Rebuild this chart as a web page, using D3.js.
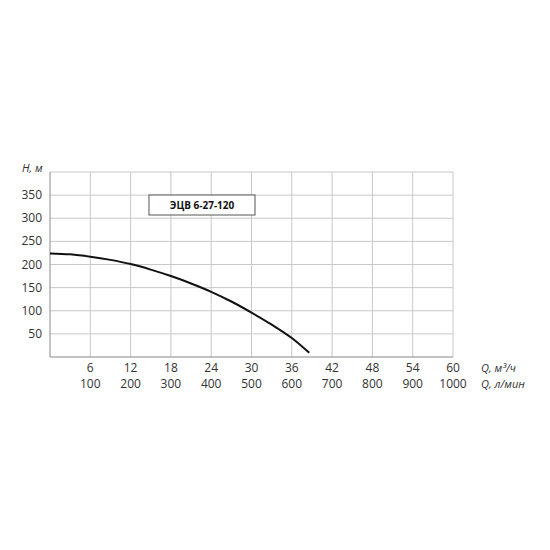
<!DOCTYPE html>
<html><head><meta charset="utf-8">
<script src="https://cdn.jsdelivr.net/npm/d3@7"></script>
<style>body{margin:0;background:#fff}text{font-family:"Open Sans",sans-serif}</style>
</head><body><svg id="c" width="550" height="550"></svg>
<script>
// pump curve values
var flowQ = [0, 3, 6, 9, 12, 15, 18, 21, 24, 27, 30, 33, 36, 38.6];
var headH = [224, 222, 217, 210, 201, 189, 175, 159, 141, 120, 96, 70, 41, 9];
var qTicks = [6, 12, 18, 24, 30, 36, 42, 48, 54, 60];
var lminTicks = [100, 200, 300, 400, 500, 600, 700, 800, 900, 1000];
var hTicks = [50, 100, 150, 200, 250, 300, 350];

var svg = d3.select("#c");
var x = d3.scaleLinear().domain([0, 60]).range([50, 453]);
var y = d3.scaleLinear().domain([0, 400]).range([357, 172]);

// grid
svg.selectAll(".vg").data(qTicks).enter().append("line")
  .attr("x1", d => x(d)).attr("x2", d => x(d)).attr("y1", y(400)).attr("y2", y(0))
  .attr("stroke", "#c8c8c8").attr("stroke-width", 1);
svg.selectAll(".hg").data(hTicks.concat([400])).enter().append("line")
  .attr("x1", x(0)).attr("x2", x(60)).attr("y1", d => y(d)).attr("y2", d => y(d))
  .attr("stroke", "#c8c8c8").attr("stroke-width", 1);
svg.append("line").attr("x1", x(0)).attr("x2", x(0)).attr("y1", y(400)).attr("y2", y(0)).attr("stroke", "#888");
svg.append("line").attr("x1", x(0)).attr("x2", x(60)).attr("y1", y(0)).attr("y2", y(0)).attr("stroke", "#888");

// y labels
svg.selectAll(".yl").data(hTicks).enter().append("text")
  .attr("x", 42).attr("y", d => y(d) + 4).attr("text-anchor", "end")
  .attr("font-size", 12).attr("fill", "#333").text(d => d);
svg.append("text").attr("x", 22).attr("y", 172).attr("font-size", 11).attr("font-style", "italic").attr("fill", "#333").text("H, м");

// x labels
svg.selectAll(".xl").data(qTicks).enter().append("text")
  .attr("x", d => x(d)).attr("y", 372).attr("text-anchor", "middle")
  .attr("font-size", 12).attr("fill", "#333").text(d => d);
svg.selectAll(".xl2").data(lminTicks).enter().append("text")
  .attr("x", (d, i) => x(qTicks[i])).attr("y", 388).attr("text-anchor", "middle")
  .attr("font-size", 12).attr("fill", "#333").text(d => d);
svg.append("text").attr("x", 481).attr("y", 372).attr("font-size", 11).attr("font-style", "italic").attr("fill", "#333").text("Q, м³/ч");
svg.append("text").attr("x", 481).attr("y", 388).attr("font-size", 11).attr("font-style", "italic").attr("fill", "#333").text("Q, л/мин");

// curve
var line = d3.line().x((d, i) => x(flowQ[i])).y(d => y(d)).curve(d3.curveMonotoneX);
svg.append("path").datum(headH).attr("d", line).attr("fill", "none").attr("stroke", "#111").attr("stroke-width", 2);

// model label
svg.append("rect").attr("x", 149).attr("y", 195).attr("width", 106).attr("height", 20)
  .attr("fill", "#fff").attr("stroke", "#555").attr("stroke-width", 1);
svg.append("text").attr("x", 202).attr("y", 209).attr("text-anchor", "middle")
  .attr("font-family", "Liberation Sans").attr("font-weight", "bold").attr("font-size", 10).attr("fill", "#111").text("ЭЦВ 6-27-120");
</script></body></html>
